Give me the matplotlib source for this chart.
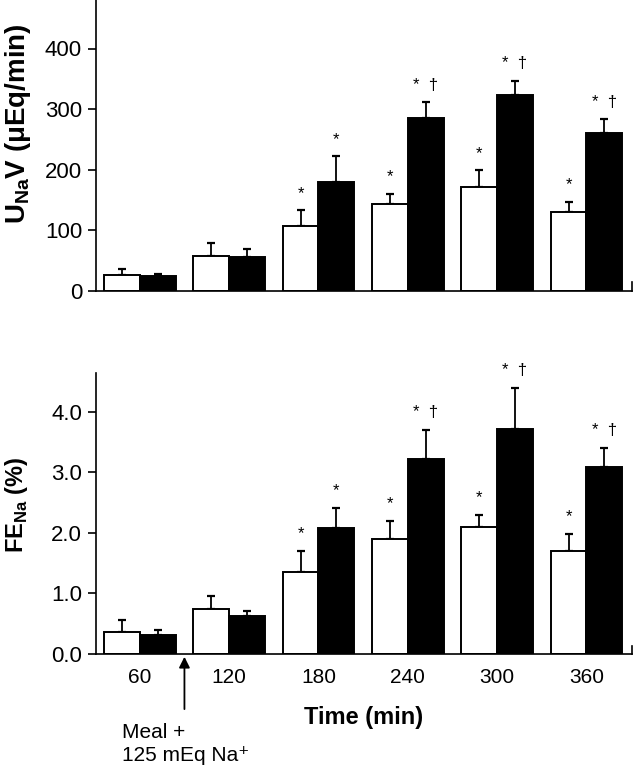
import matplotlib
matplotlib.use("Agg")
import matplotlib.pyplot as plt
import numpy as np

plt.rcParams['font.family'] = ['Liberation Sans', 'DejaVu Sans']

times = ["60", "120", "180", "240", "300", "360"]

# Top panel: UNaV (uEq/min)
unav_white = [26, 58, 107, 143, 171, 130]
unav_white_err = [10, 22, 26, 17, 28, 17]
unav_black = [24, 56, 180, 285, 323, 260]
unav_black_err = [4, 13, 42, 26, 24, 23]
unav_white_sig = ["", "", "*", "*", "*", "*"]
unav_black_sig = ["", "", "*", "*  †", "*  †", "*  †"]

# Bottom panel: FENa (%)
fena_white = [0.37, 0.75, 1.35, 1.90, 2.10, 1.70]
fena_white_err = [0.19, 0.20, 0.35, 0.30, 0.20, 0.28]
fena_black = [0.31, 0.63, 2.08, 3.22, 3.72, 3.09]
fena_black_err = [0.09, 0.08, 0.33, 0.48, 0.68, 0.31]
fena_white_sig = ["", "", "*", "*", "*", "*"]
fena_black_sig = ["", "", "*", "*  †", "*  †", "*  †"]

W, H = 633, 769
fig = plt.figure(figsize=(W / 100, H / 100), dpi=100)
ax1 = fig.add_axes([96 / W, 1 - 291 / H, (632 - 96) / W, 291 / H])
ax2 = fig.add_axes([96 / W, 1 - 654 / H, (632 - 96) / W, (654 - 373) / H])

x = np.arange(len(times))
w = 0.40

def draw(ax, wv, we, bv, be, ws, bs, ylim, yticks, ytl, off):
    ax.bar(x - w/2, wv, w, color='white', edgecolor='black', linewidth=1.4, zorder=2)
    ax.bar(x + w/2, bv, w, color='black', edgecolor='black', linewidth=1.4, zorder=2)
    ax.errorbar(x - w/2, wv, yerr=[np.zeros(len(we)), we], fmt='none', ecolor='black',
                elinewidth=1.3, capsize=3, capthick=1.6, zorder=1)
    ax.errorbar(x + w/2, bv, yerr=[np.zeros(len(be)), be], fmt='none', ecolor='black',
                elinewidth=1.3, capsize=3, capthick=1.6, zorder=1)
    for i in range(len(x)):
        if ws[i]:
            ax.annotate(ws[i], (x[i] - w/2, wv[i] + we[i]), xytext=(0, off),
                        textcoords='offset points', ha='center', va='bottom', fontsize=12)
        if bs[i]:
            ax.annotate(bs[i], (x[i] + w/2, bv[i] + be[i]), xytext=(0, off),
                        textcoords='offset points', ha='center', va='bottom', fontsize=12)
    ax.set_xlim(-0.49, 5.51)
    ax.set_ylim(*ylim)
    ax.set_yticks(yticks)
    ax.set_yticklabels(ytl, fontsize=16)
    for s in ['top', 'right']:
        ax.spines[s].set_visible(False)
    ax.spines['left'].set_linewidth(1.2)
    ax.spines['bottom'].set_linewidth(1.2)
    ax.tick_params(axis='y', direction='out', length=6, width=1.2, pad=4)
    ax.plot([1, 1], [0, 0.03], transform=ax.transAxes, color='black', lw=1.2, clip_on=False)

draw(ax1, unav_white, unav_white_err, unav_black, unav_black_err,
     unav_white_sig, unav_black_sig, (0, 480), [0, 100, 200, 300, 400],
     ["0", "100", "200", "300", "400"], 7)
ax1.set_xticks([])

draw(ax2, fena_white, fena_white_err, fena_black, fena_black_err,
     fena_white_sig, fena_black_sig, (0, 4.64), [0, 1, 2, 3, 4],
     ["0.0", "1.0", "2.0", "3.0", "4.0"], 7)
ax2.set_xticks(x)
ax2.set_xticklabels(times, fontsize=15)
ax2.tick_params(axis='x', length=0, pad=10)
ax2.set_xlabel("Time (min)", fontsize=17, fontweight='bold', labelpad=14)

fig.text(18 / W, 1 - 124 / H, r"U$_{\mathregular{Na}}$V (μEq/min)", rotation=90,
         ha='center', va='center', fontsize=20, fontweight='bold')
fig.text(17 / W, 1 - 505 / H, r"FE$_{\mathregular{Na}}$ (%)", rotation=90,
         ha='center', va='center', fontsize=17, fontweight='bold')

ax2.annotate("", xy=(0.5, 0.0), xycoords=('data', 'axes fraction'),
             xytext=(0.5, -0.206), textcoords=('data', 'axes fraction'),
             arrowprops=dict(arrowstyle='-|>', color='black', lw=1.3, mutation_scale=16))
ax2.text(-0.20, -0.244, "Meal +\n125 mEq Na⁺", transform=ax2.get_xaxis_transform(),
         ha='left', va='top', fontsize=15, linespacing=1.3)

fig.savefig("out.png", dpi=100)
